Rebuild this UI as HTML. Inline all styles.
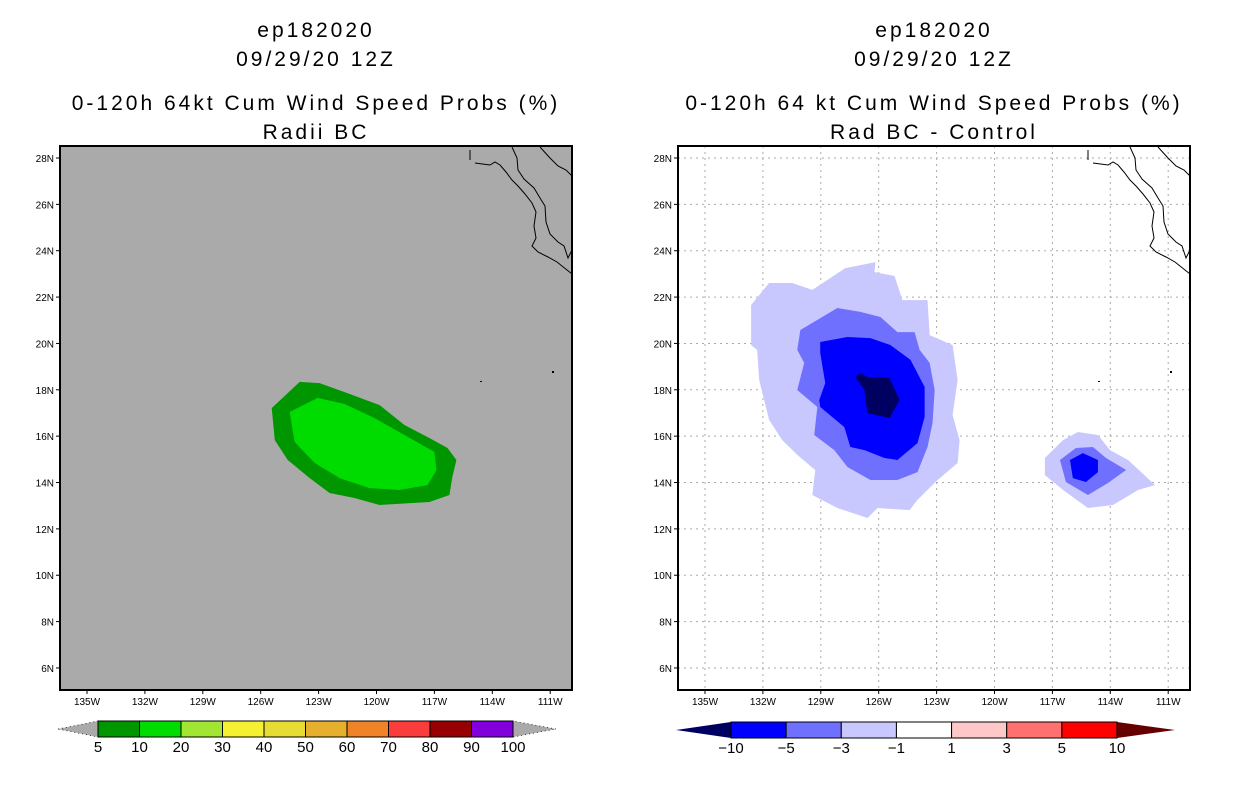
<!DOCTYPE html>
<html><head><meta charset="utf-8"><style>
body{margin:0;background:#fff;width:1236px;height:800px;overflow:hidden;font-family:"Liberation Sans",sans-serif}
svg{display:block}
</style></head><body>
<svg id="s" width="1236" height="800" xmlns="http://www.w3.org/2000/svg"></svg>
<script>
const latTicks=[28,26,24,22,20,18,16,14,12,10,8,6];
const lonTicks=[-135,-132,-129,-126,-123,-120,-117,-114,-111];
const leftOuter=[[-125.43,17.21],[-123.98,18.34],[-122.95,18.29],[-121.65,17.90],[-119.84,17.34],[-118.55,16.48],[-117.26,15.92],[-116.32,15.49],[-115.86,14.97],[-116.07,14.24],[-116.22,13.46],[-117.26,13.16],[-119.84,13.03],[-121.14,13.33],[-122.43,13.55],[-123.46,14.19],[-124.60,14.97],[-125.27,15.83]];
const leftInner=[[-124.50,17.04],[-123.05,17.65],[-121.65,17.39],[-120.10,16.78],[-118.55,16.05],[-117.00,15.32],[-116.89,14.54],[-117.36,13.89],[-118.81,13.68],[-120.36,13.76],[-121.91,14.19],[-123.20,14.84],[-124.24,15.75]];
const rLight=[[-132.61,21.66],[-131.68,22.61],[-130.48,22.61],[-129.44,22.31],[-127.73,23.25],[-126.17,23.51],[-126.22,23.08],[-125.18,22.91],[-124.77,21.87],[-123.47,21.87],[-123.36,20.36],[-122.17,19.93],[-121.91,18.42],[-122.17,16.91],[-121.81,15.83],[-121.91,14.84],[-122.95,14.11],[-123.99,13.25],[-124.40,12.81],[-126.06,12.90],[-126.58,12.47],[-128.14,12.90],[-129.44,13.46],[-129.29,14.54],[-130.22,15.19],[-131.00,15.83],[-131.68,16.70],[-132.19,18.42],[-132.30,19.72],[-132.61,19.93]];
const rMed=[[-130.06,20.58],[-128.14,21.53],[-126.95,21.36],[-125.91,21.14],[-125.03,20.49],[-124.14,20.49],[-123.88,19.72],[-123.36,19.16],[-123.10,17.99],[-123.21,16.57],[-123.47,15.53],[-123.99,14.45],[-125.03,14.11],[-126.43,14.11],[-127.62,14.67],[-128.30,15.40],[-129.34,16.05],[-129.18,17.26],[-130.22,17.99],[-129.86,19.16],[-130.22,19.72]];
const rDark=[[-129.03,20.06],[-127.62,20.28],[-126.43,20.23],[-125.39,19.93],[-124.35,19.29],[-123.62,18.12],[-123.62,16.83],[-123.99,15.70],[-125.03,14.97],[-125.70,15.06],[-126.74,15.40],[-127.47,15.53],[-127.78,16.39],[-129.03,17.26],[-129.08,17.56],[-128.77,18.29],[-129.03,19.59]];
const rNavy=[[-127.21,18.55],[-126.95,18.72],[-126.48,18.51],[-126.06,18.55],[-125.44,18.51],[-124.92,17.56],[-125.44,16.78],[-126.58,17.00],[-126.74,17.99]];
const sLight=[[-117.39,15.06],[-116.45,15.83],[-115.68,16.18],[-114.64,16.05],[-114.01,15.40],[-113.08,14.97],[-111.68,13.89],[-112.56,13.68],[-113.86,13.03],[-115.16,12.90],[-116.45,13.68],[-117.39,14.32]];
const sMed=[[-116.61,14.97],[-115.78,15.49],[-114.90,15.53],[-114.22,15.06],[-113.18,14.54],[-114.12,13.98],[-115.16,13.46],[-116.30,14.02]];
const sDark=[[-116.09,14.97],[-115.42,15.27],[-114.64,14.97],[-114.64,14.45],[-115.26,14.02],[-115.94,14.19]];
const leftBarLabels=["5","10","20","30","40","50","60","70","80","90","100"];
const leftBarColors=["#009600","#00dc00","#a0e632","#f5f032","#e6dc32","#e6af2d","#f08228","#fa3c3c","#960000","#8200dc"];
const rightBarLabels=["-10","-5","-3","-1","1","3","5","10"];
const rightBarColors=["#0000ff","#7070ff","#c8c8ff","#ffffff","#ffc8c8","#ff7070","#ff0000"];
const coast=[
 [[415,17],[430,19],[435,16],[440,19],[446,26],[452,34],[458,40],[465,48],[472,57],[476,66],[474,80],[476,92],[472,100],[478,106],[488,111],[497,116],[512,128]],
 [[452,1],[457,12],[458,24],[464,33],[474,42],[480,52],[485,60],[486,76],[490,88],[498,96],[504,100],[508,112],[512,104]],
 [[480,1],[490,12],[498,20],[506,24],[512,30]],
 [[410,4],[410,14]]];
const NS="http://www.w3.org/2000/svg",S=document.getElementById('s');
function mk(t,a,p){const e=document.createElementNS(NS,t);for(const k in a)e.setAttribute(k,a[k]);(p||S).appendChild(e);return e;}
function panel(px,bg,grid,polys,title,name){
 const W=512,H=544,x0=px,y0=146;
 const sx=lon=>x0+27+(lon+135)*19.3, sy=lat=>y0+12+(28-lat)*23.18;
 const g=mk('g',{});
 const bgR=mk('rect',{x:x0,y:y0,width:W,height:H,fill:bg},g);
 if(grid){lonTicks.forEach(l=>mk('line',{x1:sx(l),x2:sx(l),y1:y0,y2:y0+H,stroke:'#aaa','stroke-dasharray':'2,4'},g));
  latTicks.forEach(l=>mk('line',{x1:x0,x2:x0+W,y1:sy(l),y2:sy(l),stroke:'#aaa','stroke-dasharray':'2,4'},g));}
 polys.forEach(([pts,c,n])=>{const p=mk('polygon',{points:pts.map(q=>sx(q[0])+','+sy(q[1])).join(' '),fill:c},g);});
 const cg=mk('g',{transform:`translate(${x0},${y0})`,fill:'none',stroke:'#000','stroke-width':1},g);
 
 coast.forEach(c=>mk('polyline',{points:c.map(q=>q.join(',')).join(' ')},cg));
 mk('rect',{x:x0+420,y:y0+235,width:2,height:1,fill:'#000'},g);mk('rect',{x:x0+492,y:y0+225,width:2,height:2,fill:'#000'},g);
 mk('rect',{x:x0,y:y0,width:W,height:H,fill:'none',stroke:'#000','stroke-width':2},g);
 latTicks.forEach(l=>{mk('line',{x1:x0-4,x2:x0,y1:sy(l),y2:sy(l),stroke:'#000'},g);
  const t=mk('text',{x:x0-6,y:sy(l)+4,'font-size':10,'text-anchor':'end'},g);t.textContent=l+'N';});
 lonTicks.forEach(l=>{mk('line',{x1:sx(l),x2:sx(l),y1:y0+H,y2:y0+H+4,stroke:'#000'},g);
  const t=mk('text',{x:sx(l),y:y0+H+15,'font-size':10,'text-anchor':'middle'},g);t.textContent=(-l)+'W';});
 const cx=x0+W/2;
 title.forEach((s,i)=>{const t=mk('text',{x:cx,y:[37,66,110,139][i],'font-size':21,'text-anchor':'middle','letter-spacing':3},g);t.textContent=s;});
}
panel(60,'#aaaaaa',false,[[leftOuter,'#009600','contour-10'],[leftInner,'#00dc00','contour-20']],['ep182020','09/29/20 12Z','0-120h 64kt Cum Wind Speed Probs (%)','Radii BC'],'left-panel');
panel(678,'#ffffff',true,[[rLight,'#c8c8ff','diff-light'],[rMed,'#7070ff','diff-medium'],[rDark,'#0000ff','diff-dark'],[rNavy,'#000060','diff-navy'],[sLight,'#c8c8ff','diff-light-small'],[sMed,'#7070ff','diff-medium-small'],[sDark,'#0000ff','diff-dark-small']],['ep182020','09/29/20 12Z','0-120h 64 kt Cum Wind Speed Probs (%)','Rad BC - Control'],'right-panel');
function cbar(x1,x2,tl,tr,y1,y2,cols,labels,lc,rc,name,dash){
 const g=mk('g',{});
 const ym=(y1+y2)/2,w=(x2-x1)/cols.length;
 mk('polygon',{points:`${tl},${ym} ${x1},${y1} ${x1},${y2}`,fill:lc,stroke:dash?'#000':'none','stroke-dasharray':'1,3','stroke-width':0.7},g);
 mk('polygon',{points:`${tr},${ym} ${x2},${y1} ${x2},${y2}`,fill:rc,stroke:dash?'#000':'none','stroke-dasharray':'1,3','stroke-width':0.7},g);
 cols.forEach((c,i)=>{const r=mk('rect',{x:x1+i*w,y:y1,width:w,height:y2-y1,fill:c,stroke:'#000','stroke-width':1},g);});
 labels.forEach((s,i)=>{const x=x1+i*w;const t=mk('text',{x:x,y:y2+15,'font-size':15,'text-anchor':'middle'},g);t.textContent=s.replace('-','\u2212');});
}
cbar(98,513,58,556,721,737,leftBarColors,leftBarLabels,'#aaaaaa','#aaaaaa','left-colorbar',true);
cbar(731,1117,676,1175,722,738,rightBarColors,rightBarLabels,'#000060','#640000','right-colorbar',false);
</script>
</body></html>
